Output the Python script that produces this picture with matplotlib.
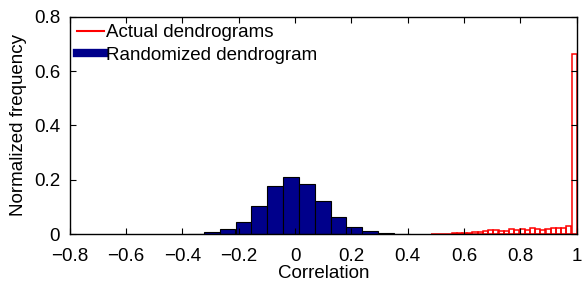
# Histogram of dendrogram correlations: actual vs randomized
import matplotlib.pyplot as plt
from matplotlib.lines import Line2D
from matplotlib.ticker import FixedLocator, FuncFormatter

plt.rcParams['font.family'] = ['Liberation Sans', 'DejaVu Sans']

# Randomized dendrogram histogram (bin centers, normalized frequency)
rand_centers = [-0.352, -0.296, -0.240, -0.183, -0.127, -0.071, -0.015,
                0.042, 0.098, 0.154, 0.210, 0.266, 0.322, 0.379]
rand_freq = [0.003, 0.007, 0.0195, 0.046, 0.103, 0.179, 0.211,
             0.185, 0.122, 0.065, 0.028, 0.013, 0.006, 0.002]
rand_width = 0.0562

# Actual dendrograms histogram
act_centers = [0.491, 0.509, 0.528, 0.546, 0.565, 0.583, 0.602, 0.620, 0.639,
               0.657, 0.676, 0.694, 0.713, 0.731, 0.750, 0.769, 0.787, 0.806,
               0.824, 0.843, 0.861, 0.880, 0.898, 0.917, 0.935, 0.954, 0.972, 0.991]
act_freq = [0.001, 0.002, 0.002, 0.003, 0.004, 0.005, 0.006, 0.006, 0.007,
            0.009, 0.011, 0.016, 0.016, 0.011, 0.011, 0.018, 0.016, 0.018,
            0.016, 0.022, 0.018, 0.016, 0.018, 0.023, 0.023, 0.023, 0.031, 0.662]
act_width = 0.0185

xticks = [-0.8, -0.6, -0.4, -0.2, 0, 0.2, 0.4, 0.6, 0.8, 1]
yticks = [0, 0.2, 0.4, 0.6, 0.8]

fig = plt.figure(figsize=(5.82, 2.82), dpi=100)
ax = fig.add_axes([0.120, 0.169, 0.871, 0.772])

ax.bar(rand_centers, rand_freq, width=rand_width, color='#00008B',
       edgecolor='black', linewidth=0.8)
ax.bar(act_centers, act_freq, width=act_width, fill=False,
       edgecolor='#FF0000', linewidth=1.1)

ax.set_xlim(-0.8, 1)
ax.set_ylim(0, 0.8)

def matlab_fmt(v, pos):
    s = '%g' % round(v, 2)
    return s.replace('-', '\u2212')

ax.xaxis.set_major_locator(FixedLocator(xticks))
ax.yaxis.set_major_locator(FixedLocator(yticks))
ax.xaxis.set_major_formatter(FuncFormatter(matlab_fmt))
ax.yaxis.set_major_formatter(FuncFormatter(matlab_fmt))
ax.tick_params(direction='in', top=True, right=True, length=4,
               labelsize=13.5, width=0.8)
ax.tick_params(axis='y', pad=7)
ax.tick_params(axis='x', pad=9.5)
for s in ax.spines.values():
    s.set_linewidth(1.0)

ax.set_xlabel('Correlation', fontsize=13.5, labelpad=0)
ax.set_ylabel('Normalized frequency', fontsize=13.5, labelpad=5)

handles = [Line2D([], [], color='#FF0000', lw=1.5),
           Line2D([], [], color='#00008B', lw=6)]
ax.legend(handles, ['Actual dendrograms', 'Randomized dendrogram'],
          loc='upper left', frameon=False, fontsize=13.5, handlelength=1.4,
          handletextpad=0.15, borderaxespad=0.2, labelspacing=0.3,
          borderpad=0.2)

fig.savefig('out.png', dpi=100)
